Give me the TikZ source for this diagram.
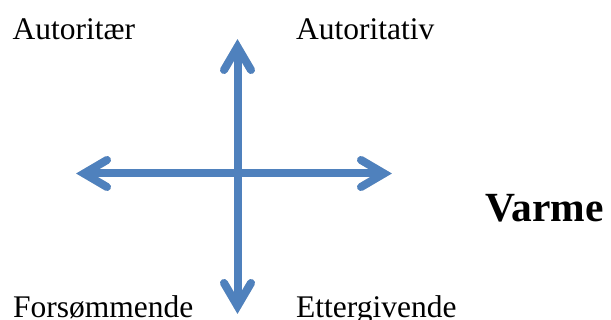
\documentclass[tikz,border=0pt]{standalone}
\usepackage{fontspec}
\setmainfont{Liberation Serif}
\usetikzlibrary{calc}
\definecolor{axisblue}{RGB}{79,129,189}
\tikzset{
  shaft/.style={line width=8pt, draw=axisblue, line cap=butt},
  head/.style={line width=8pt, draw=axisblue, line cap=round, line join=miter},
  shadowline/.style={line width=8pt, draw=black, opacity=0.12, line cap=butt},
  shadowhead/.style={line width=8pt, draw=black, opacity=0.12, line cap=round, line join=miter},
  lbl/.style={inner sep=0pt, anchor=base west, font=\fontsize{31.5}{36}\selectfont},
  bold lbl/.style={inner sep=0pt, anchor=base west, font=\fontsize{41.5}{48}\selectfont\bfseries}
}
\begin{document}
\begin{tikzpicture}[x=1pt, y=-1pt]
\useasboundingbox (0,0) rectangle (611,320);
\fill[white] (0,0) rectangle (611,320);
% visual tips of the arrow heads
\coordinate (top) at (237.5,39);
\coordinate (bottom) at (237.5,314);
\coordinate (left) at (76,173.5);
\coordinate (right) at (392,173.5);
% path tips (inside the miter)
\coordinate (topP) at ($(top)+(0,8)$);
\coordinate (bottomP) at ($(bottom)+(0,-8)$);
\coordinate (leftP) at ($(left)+(8,0)$);
\coordinate (rightP) at ($(right)+(-8,0)$);
% soft shadow
\begin{scope}[shift={(1.5,2.5)}]
  \draw[shadowline] (topP) -- (bottomP);
  \draw[shadowline] (leftP) -- (rightP);
  \draw[shadowhead] ($(top)+(-13.5,31)$) -- (topP) -- ($(top)+(13.5,31)$);
  \draw[shadowhead] ($(bottom)+(-13.5,-31)$) -- (bottomP) -- ($(bottom)+(13.5,-31)$);
  \draw[shadowhead] ($(left)+(31,-13.5)$) -- (leftP) -- ($(left)+(31,13.5)$);
  \draw[shadowhead] ($(right)+(-31,-13.5)$) -- (rightP) -- ($(right)+(-31,13.5)$);
\end{scope}
% axes
\draw[shaft] (topP) -- (bottomP);
\draw[shaft] (leftP) -- (rightP);
\draw[head] ($(top)+(-13.5,31)$) -- (topP) -- ($(top)+(13.5,31)$);
\draw[head] ($(bottom)+(-13.5,-31)$) -- (bottomP) -- ($(bottom)+(13.5,-31)$);
\draw[head] ($(left)+(31,-13.5)$) -- (leftP) -- ($(left)+(31,13.5)$);
\draw[head] ($(right)+(-31,-13.5)$) -- (rightP) -- ($(right)+(-31,13.5)$);
% labels
\node[lbl] (autoritaer) at (12.5,39.5) {Autoritær};
\node[lbl] (autoritativ) at (296,39.5) {Autoritativ};
\node[lbl] (forsommende) at (13,317.5) {Forsømmende};
\node[lbl] (ettergivende) at (296,317.5) {Ettergivende};
\node[bold lbl] (varme) at (485,222) {Varme};
\end{tikzpicture}
\end{document}
